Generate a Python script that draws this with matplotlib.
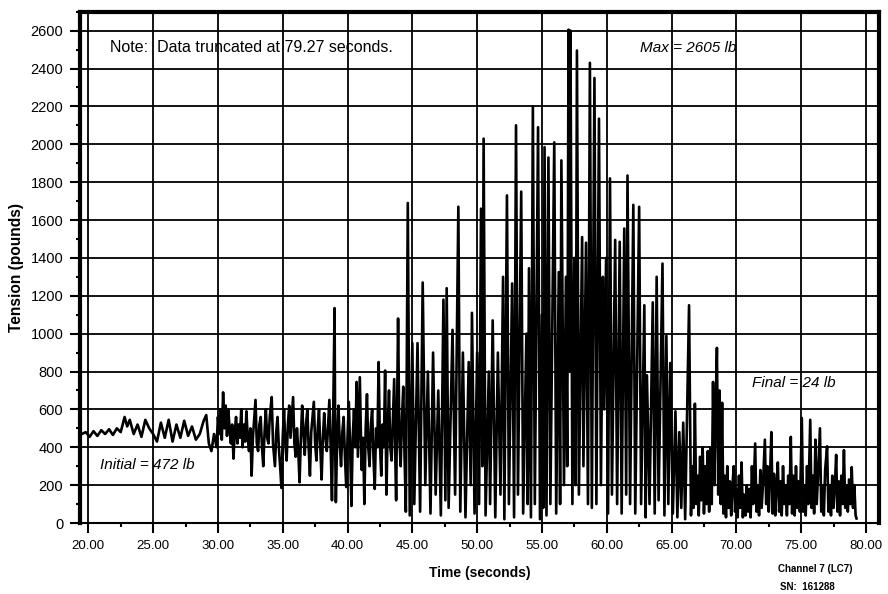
# tension time history, channel 7 (LC7)

import numpy as np
import matplotlib
matplotlib.use('Agg')
from matplotlib import pyplot as plt
from matplotlib.ticker import MultipleLocator, FormatStrFormatter

plt.rcParams['font.family'] = ['Liberation Sans', 'DejaVu Sans']

# values, split into segments (time [s], tension [lb])
calm_t = [19.5, 19.8, 20.1, 20.4, 20.7, 21.0, 21.3, 21.6, 21.9, 22.2, 22.5, 22.8, 23.0, 23.2,
          23.5, 23.8, 24.1, 24.4, 24.7, 25.0, 25.3, 25.6, 25.9, 26.2, 26.5, 26.8, 27.1, 27.4,
          27.7, 28.0, 28.3, 28.6, 28.9, 29.1, 29.3, 29.5, 29.7, 29.9]
calm_v = [470, 480, 455, 485, 460, 490, 470, 495, 465, 500, 480, 560, 510, 545,
          470, 520, 455, 545, 500, 470, 430, 530, 450, 545, 430, 520, 450, 540,
          460, 510, 440, 470, 540, 570, 420, 380, 470, 400]

build_t = [30.0, 30.1, 30.2, 30.3, 30.4, 30.5, 30.6, 30.7, 30.8, 30.9, 31.0, 31.1, 31.2, 31.3,
           31.4, 31.5, 31.6, 31.7, 31.8, 31.9, 32.0, 32.1, 32.2, 32.3, 32.4, 32.5, 32.6, 32.7,
           32.8, 32.9, 33.0, 33.1, 33.2, 33.3, 33.4, 33.5, 33.6, 33.7, 33.8, 33.9, 34.0, 34.15,
           34.25, 34.4, 34.5, 34.6, 34.7, 34.8, 34.9, 35.0, 35.1, 35.2, 35.3, 35.4, 35.5, 35.6,
           35.7, 35.8, 35.9, 36.0, 36.1, 36.2, 36.3, 36.4, 36.5, 36.6, 36.7, 36.8, 36.9, 37.0,
           37.1, 37.2, 37.3, 37.4, 37.5, 37.6, 37.7, 37.8, 37.9, 38.0, 38.1, 38.2, 38.3, 38.4,
           38.5, 38.6, 38.7, 38.8, 38.9, 39.0, 39.05, 39.1, 39.2, 39.3, 39.4, 39.5, 39.6, 39.7,
           39.8, 39.9, 40.0, 40.1, 40.2, 40.3, 40.4, 40.5, 40.6, 40.7, 40.8, 40.95, 41.05, 41.1,
           41.2, 41.3, 41.4, 41.5, 41.6, 41.7, 41.8, 41.9, 42.0, 42.1, 42.2, 42.3, 42.4, 42.5,
           42.6, 42.7, 42.8, 42.9, 43.0, 43.1, 43.2, 43.3, 43.4, 43.5, 43.6, 43.7, 43.75, 43.9,
           44.0, 44.1, 44.2, 44.3, 44.4, 44.5, 44.65, 44.8]
build_v = [560, 470, 600, 440, 690, 500, 620, 460, 600, 500, 420, 520, 340, 480,
           560, 420, 520, 450, 600, 400, 520, 430, 590, 450, 380, 500, 250, 450,
           550, 650, 420, 380, 520, 560, 400, 300, 480, 600, 450, 420, 560, 665,
           420, 300, 480, 560, 400, 300, 185, 450, 600, 420, 330, 520, 620, 450,
           560, 665, 420, 350, 500, 380, 215, 450, 620, 480, 360, 520, 600, 400,
           250, 480, 560, 640, 420, 330, 500, 600, 400, 230, 450, 580, 450, 380,
           520, 650, 400, 120, 600, 1135, 400, 110, 450, 620, 420, 300, 480, 560,
           350, 190, 450, 640, 400, 90, 450, 600, 400, 745, 350, 770, 400, 280,
           450, 100, 500, 680, 400, 300, 520, 600, 350, 180, 500, 400, 850, 420,
           250, 520, 400, 805, 150, 500, 700, 400, 330, 550, 760, 300, 120, 1080,
           450, 300, 550, 720, 350, 60, 1690, 40]

storm_t = [45.0, 45.15, 45.4, 45.6, 45.8, 46.0, 46.2, 46.4, 46.6, 46.8, 47.0, 47.2, 47.4, 47.55,
           47.65, 47.8, 48.1, 48.3, 48.55, 48.7, 48.9, 49.1, 49.35, 49.5, 49.6, 49.8, 50.0, 50.15,
           50.3, 50.4, 50.5, 50.65, 50.9, 51.0, 51.2, 51.4, 51.6, 51.8, 52.0, 52.1, 52.3, 52.45,
           52.7, 52.85, 53.0, 53.15, 53.4, 53.55, 53.8, 53.9, 54.0, 54.15, 54.3, 54.45, 54.7, 54.85,
           55.0, 55.1, 55.2, 55.35, 55.5, 55.65, 55.95, 56.1, 56.3, 56.4, 56.5, 56.7, 56.85, 56.95,
           57.05, 57.12, 57.2, 57.35, 57.5, 57.6, 57.7, 57.85, 58.1, 58.2, 58.4, 58.55, 58.7, 58.85,
           59.05, 59.2, 59.4, 59.55, 59.7, 59.8, 59.95, 60.1, 60.25, 60.4, 60.65, 60.8, 61.0, 61.15,
           61.35, 61.5, 61.6, 61.8, 62.05, 62.2, 62.5, 62.65, 62.9, 63.0, 63.1, 63.3, 63.55, 63.7,
           63.85, 64.0, 64.3, 64.45, 64.6, 64.75, 64.9, 65.1, 65.3, 65.45, 65.6, 65.75, 65.9, 66.05,
           66.35, 66.5]
storm_v = [950, 100, 950, 60, 1270, 200, 800, 50, 900, 150, 700, 40, 1180, 120,
           1240, 80, 1020, 150, 1670, 60, 900, 30, 850, 200, 1110, 50, 900, 100,
           1660, 300, 2030, 40, 800, 100, 1070, 30, 900, 150, 1300, 20, 1730, 100,
           1265, 30, 2100, 150, 1750, 50, 1000, 100, 1345, 30, 2200, 100, 2090, 20,
           1100, 80, 1985, 40, 1930, 100, 2010, 50, 1325, 100, 1915, 200, 1300, 300,
           2605, 800, 2600, 100, 1400, 200, 2495, 150, 1510, 300, 1480, 100, 2430, 80,
           2350, 100, 2135, 200, 1300, 600, 1400, 50, 1820, 150, 1495, 100, 1485, 50,
           1555, 150, 1835, 100, 1680, 50, 1670, 100, 1150, 30, 780, 100, 1165, 50,
           1300, 120, 1370, 40, 990, 100, 845, 50, 590, 30, 480, 80, 530, 20,
           1150, 40]

tail_t = [66.6, 66.7, 66.8, 66.9, 67.0, 67.1, 67.2, 67.3, 67.4, 67.5, 67.6, 67.7, 67.8, 67.9,
          68.0, 68.1, 68.2, 68.3, 68.4, 68.5, 68.6, 68.7, 68.8, 68.9, 69.0, 69.1, 69.2, 69.3,
          69.4, 69.5, 69.6, 69.7, 69.8, 69.9, 70.0, 70.1, 70.2, 70.3, 70.4, 70.5, 70.6, 70.7,
          70.8, 70.9, 71.0, 71.1, 71.2, 71.3, 71.45, 71.55, 71.65, 71.75, 71.85, 71.95, 72.05, 72.2,
          72.3, 72.4, 72.5, 72.6, 72.7, 72.8, 72.9, 73.0, 73.1, 73.2, 73.3, 73.4, 73.5, 73.6,
          73.7, 73.8, 73.9, 74.0, 74.1, 74.2, 74.3, 74.4, 74.5, 74.6, 74.7, 74.8, 74.9, 75.05,
          75.15, 75.25, 75.35, 75.45, 75.55, 75.7, 75.8, 75.9, 76.0, 76.1, 76.2, 76.3, 76.45, 76.55,
          76.65, 76.75, 76.85, 77.0, 77.1, 77.2, 77.3, 77.4, 77.5, 77.6, 77.7, 77.8, 77.9, 78.0,
          78.1, 78.2, 78.3, 78.4, 78.5, 78.6, 78.7, 78.8, 78.9, 79.0, 79.1, 79.2, 79.27]
tail_v = [300, 80, 630, 100, 250, 40, 350, 120, 400, 50, 300, 100, 380, 60,
          400, 100, 745, 200, 600, 925, 150, 700, 100, 635, 50, 250, 30, 300,
          80, 220, 40, 200, 300, 60, 180, 30, 250, 80, 320, 30, 150, 40,
          200, 60, 180, 30, 300, 100, 420, 60, 200, 40, 280, 80, 200, 440,
          100, 300, 60, 250, 480, 50, 260, 40, 200, 320, 60, 220, 40, 300,
          100, 200, 40, 250, 100, 455, 50, 250, 40, 300, 80, 220, 60, 555,
          60, 200, 40, 300, 100, 545, 80, 250, 50, 440, 100, 250, 500, 60,
          200, 40, 280, 405, 60, 200, 40, 250, 80, 200, 360, 60, 220, 40,
          250, 100, 385, 80, 200, 60, 230, 100, 295, 80, 200, 40, 24]

time = np.concatenate([calm_t, build_t, storm_t, tail_t])
tension = np.concatenate([calm_v, build_v, storm_v, tail_v])

fig = plt.figure(figsize=(8.88, 5.94), dpi=100)
ax = fig.add_axes([0.0901, 0.1195, 0.8994, 0.8608])

ax.plot(time, tension, color='black', lw=1.9)

ax.set_xlim(19.36, 80.98)
ax.set_ylim(0, 2700)
ax.xaxis.set_major_locator(MultipleLocator(5))
ax.xaxis.set_minor_locator(MultipleLocator(2.5))
ax.yaxis.set_minor_locator(MultipleLocator(100))
ax.xaxis.set_major_formatter(FormatStrFormatter('%.2f'))
ax.set_yticks(np.arange(0, 2601, 200))
ax.grid(True, which='major', color='black', lw=1.3)
ax.tick_params(which='major', direction='out', length=7, width=1.5, pad=5)
ax.tick_params(axis='x', labelsize=9.5)
ax.tick_params(axis='y', labelsize=10.5)
ax.tick_params(which='minor', direction='out', length=3, width=1.5)
for side in ['left', 'top', 'right']:
    ax.spines[side].set_linewidth(3)
ax.spines['bottom'].set_linewidth(1.5)

plt.xlabel('Time (seconds)', fontsize=10, fontweight='bold', labelpad=10)
plt.ylabel('Tension (pounds)', fontsize=11.2, fontweight='bold', labelpad=5)

ax.text(21.7, 2510, 'Note:  Data truncated at 79.27 seconds.', fontsize=11.5, va='center')
ax.text(62.6, 2510, 'Max = 2605 lb', fontsize=11, style='italic', va='center')
ax.text(71.2, 738, 'Final = 24 lb', fontsize=11, style='italic', va='center')
ax.text(20.9, 306, 'Initial = 472 lb', fontsize=11, style='italic', va='center')

fig.text(0.918, 0.037, 'Channel 7 (LC7)', fontsize=7, fontweight='bold', ha='center')
fig.text(0.878, 0.007, 'SN:  161288', fontsize=7, fontweight='bold', ha='left')

plt.savefig('out.png', dpi=100)
